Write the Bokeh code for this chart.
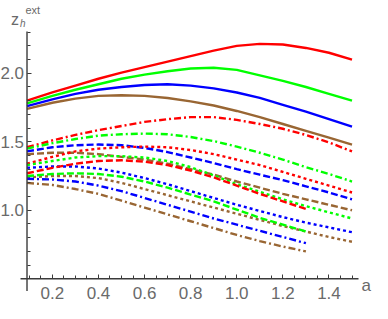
from bokeh.plotting import figure
from bokeh.models import LinearAxis, FixedTicker, Range1d, Label, PrintfTickFormatter
from bokeh.embed import file_html
from bokeh.resources import INLINE

# ---- data ----
a_long = [0.09, 0.2, 0.3, 0.4, 0.5, 0.6, 0.7, 0.8, 0.9, 1.0, 1.1, 1.2, 1.3, 1.4, 1.5]
a_short = [0.09, 0.2, 0.3, 0.4, 0.5, 0.6, 0.7, 0.8, 0.9, 1.0, 1.1, 1.2, 1.3]

red_solid = [1.80, 1.86, 1.91, 1.96, 2.005, 2.045, 2.085, 2.125, 2.165, 2.20, 2.215, 2.21, 2.185, 2.15, 2.10]
green_solid = [1.78, 1.835, 1.88, 1.92, 1.96, 1.99, 2.015, 2.035, 2.04, 2.025, 1.985, 1.945, 1.90, 1.85, 1.80]
blue_solid = [1.76, 1.81, 1.85, 1.88, 1.90, 1.915, 1.92, 1.91, 1.89, 1.86, 1.82, 1.77, 1.72, 1.665, 1.61]
brown_solid = [1.74, 1.785, 1.815, 1.835, 1.84, 1.835, 1.82, 1.795, 1.765, 1.725, 1.68, 1.63, 1.58, 1.53, 1.48]

red_dotdash = [1.46, 1.51, 1.55, 1.585, 1.615, 1.645, 1.665, 1.68, 1.68, 1.66, 1.63, 1.595, 1.55, 1.495, 1.43]
green_dotdash = [1.45, 1.49, 1.52, 1.545, 1.555, 1.56, 1.555, 1.535, 1.505, 1.465, 1.42, 1.37, 1.315, 1.265, 1.21]
blue_dashed = [1.43, 1.46, 1.475, 1.48, 1.475, 1.455, 1.425, 1.385, 1.345, 1.30, 1.26, 1.22, 1.175, 1.13, 1.08]
brown_dashed = [1.41, 1.42, 1.42, 1.41, 1.39, 1.37, 1.34, 1.30, 1.26, 1.21, 1.165, 1.12, 1.08, 1.04, 1.00]
red_dotted = [1.34, 1.39, 1.43, 1.45, 1.46, 1.465, 1.46, 1.44, 1.41, 1.37, 1.33, 1.28, 1.23, 1.18, 1.13]
green_dotted = [1.33, 1.36, 1.385, 1.395, 1.395, 1.385, 1.36, 1.315, 1.255, 1.19, 1.135, 1.08, 1.03, 0.985, 0.94]
blue_dotted = [1.31, 1.32, 1.32, 1.305, 1.275, 1.235, 1.19, 1.14, 1.09, 1.04, 0.995, 0.95, 0.91, 0.875, 0.84]
brown_dotted = [1.24, 1.25, 1.25, 1.235, 1.20, 1.155, 1.11, 1.065, 1.02, 0.975, 0.93, 0.885, 0.845, 0.805, 0.77]

red_dashed = [1.27, 1.31, 1.34, 1.36, 1.365, 1.355, 1.33, 1.29, 1.24, 1.18, 1.12, 1.065, 1.01]
green_dashed = [1.25, 1.265, 1.27, 1.265, 1.245, 1.21, 1.165, 1.115, 1.065, 1.005, 0.945, 0.895, 0.845]
blue_dotdash = [1.23, 1.225, 1.21, 1.18, 1.14, 1.09, 1.04, 0.99, 0.94, 0.895, 0.85, 0.805, 0.76]
brown_dotdash = [1.20, 1.185, 1.155, 1.12, 1.07, 1.02, 0.97, 0.92, 0.87, 0.82, 0.775, 0.735, 0.70]

x_ticks = [0.2, 0.4, 0.6, 0.8, 1.0, 1.2, 1.4]
y_ticks = [1.0, 1.5, 2.0]
x_minor = [0.1, 0.15, 0.2, 0.25, 0.3, 0.35, 0.4, 0.45, 0.5, 0.55, 0.6, 0.65, 0.7, 0.75,
           0.8, 0.85, 0.9, 0.95, 1.0, 1.05, 1.1, 1.15, 1.2, 1.25, 1.3, 1.35, 1.4, 1.45, 1.5]
y_minor = [0.5, 0.6, 0.7, 0.8, 0.9, 1.0, 1.1, 1.2, 1.3, 1.4, 1.5, 1.6, 1.7, 1.8, 1.9, 2.0, 2.1, 2.2, 2.3]

RED, GREEN, BLUE, BROWN = "#ff0000", "#00ff00", "#0000ff", "#996633"
SOLID, DOTDASH, DASHED, DOTTED = "solid", "7 3 2 3", "7 3", "3 3"

series = [
    (a_long, red_solid, RED, SOLID),
    (a_long, green_solid, GREEN, SOLID),
    (a_long, blue_solid, BLUE, SOLID),
    (a_long, brown_solid, BROWN, SOLID),
    (a_long, red_dotdash, RED, DOTDASH),
    (a_long, green_dotdash, GREEN, DOTDASH),
    (a_long, blue_dashed, BLUE, DASHED),
    (a_long, brown_dashed, BROWN, DASHED),
    (a_long, red_dotted, RED, DOTTED),
    (a_long, green_dotted, GREEN, DOTTED),
    (a_long, blue_dotted, BLUE, DOTTED),
    (a_long, brown_dotted, BROWN, DOTTED),
    (a_short, red_dashed, RED, DASHED),
    (a_short, green_dashed, GREEN, DASHED),
    (a_short, blue_dotdash, BLUE, DOTDASH),
    (a_short, brown_dotdash, BROWN, DOTDASH),
]

# plot-range of the axes (Mathematica style with padding) and axis crossing
AX_X0, AX_X1 = 0.0618, 1.5282
AX_Y0, AX_Y1 = 0.41, 2.305
AX_X, AX_Y = 0.09, 0.5

# the whole canvas is the frame, so nothing gets clipped
X0, X1 = -0.025, 1.5889
Y0, Y1 = 0.3196, 2.5313

p = figure(width=372, height=303, output_backend="svg", toolbar_location=None,
           x_range=Range1d(X0, X1), y_range=Range1d(Y0, Y1),
           x_axis_location=None, y_axis_location=None,
           min_border_left=0, min_border_right=0, min_border_top=0, min_border_bottom=0)
p.outline_line_color = None
p.grid.visible = False
p.background_fill_color = "white"
p.border_fill_color = "white"

AXIS_COL = "#3a3a3a"
LABEL_COL = "#6a6a6a"
FONT = "Liberation Sans"

for xs, ys, col, dash in series:
    p.line(xs, ys, line_color=col, line_width=2.4, line_dash=dash)

# axis lines spanning the padded plot range
p.segment(x0=[AX_X0, AX_X], y0=[AX_Y, AX_Y0], x1=[AX_X1, AX_X], y1=[AX_Y, AX_Y1],
          line_color=AXIS_COL, line_width=1.4)

xaxis = LinearAxis(fixed_location=AX_Y,
                   ticker=FixedTicker(ticks=x_ticks, minor_ticks=x_minor),
                   formatter=PrintfTickFormatter(format="%.1f"))
yaxis = LinearAxis(fixed_location=AX_X,
                   ticker=FixedTicker(ticks=y_ticks, minor_ticks=y_minor),
                   formatter=PrintfTickFormatter(format="%.1f"))
for ax in (xaxis, yaxis):
    ax.axis_line_color = None
    ax.major_tick_line_color = AXIS_COL
    ax.minor_tick_line_color = AXIS_COL
    ax.major_tick_in = 4
    ax.major_tick_out = 0
    ax.minor_tick_in = 3
    ax.minor_tick_out = 0
    ax.major_label_text_font = FONT
    ax.major_label_text_font_size = "17px"
    ax.major_label_text_color = LABEL_COL
xaxis.major_label_standoff = 8
yaxis.major_label_standoff = 3
p.add_layout(xaxis, "below")
p.add_layout(yaxis, "left")

# axis labels
p.add_layout(Label(x=AX_X, y=AX_Y1, x_offset=-16, y_offset=12.3, text="z",
                   text_font=FONT, text_font_size="16px", text_color=LABEL_COL,
                   text_baseline="alphabetic", text_align="left"))
p.add_layout(Label(x=AX_X, y=AX_Y1, x_offset=-7, y_offset=8, text="h",
                   text_font=FONT, text_font_style="italic", text_font_size="10px",
                   text_color=LABEL_COL, text_baseline="alphabetic", text_align="left"))
p.add_layout(Label(x=AX_X, y=AX_Y1, x_offset=-1.5, y_offset=22, text="ext",
                   text_font=FONT, text_font_size="11px", text_color=LABEL_COL,
                   text_baseline="alphabetic", text_align="left"))
p.add_layout(Label(x=AX_X1, y=AX_Y, x_offset=3, y_offset=-7, text="a",
                   text_font=FONT, text_font_size="17px", text_color=LABEL_COL,
                   text_baseline="alphabetic", text_align="left"))

open("out.html", "w").write(file_html(p, INLINE))
